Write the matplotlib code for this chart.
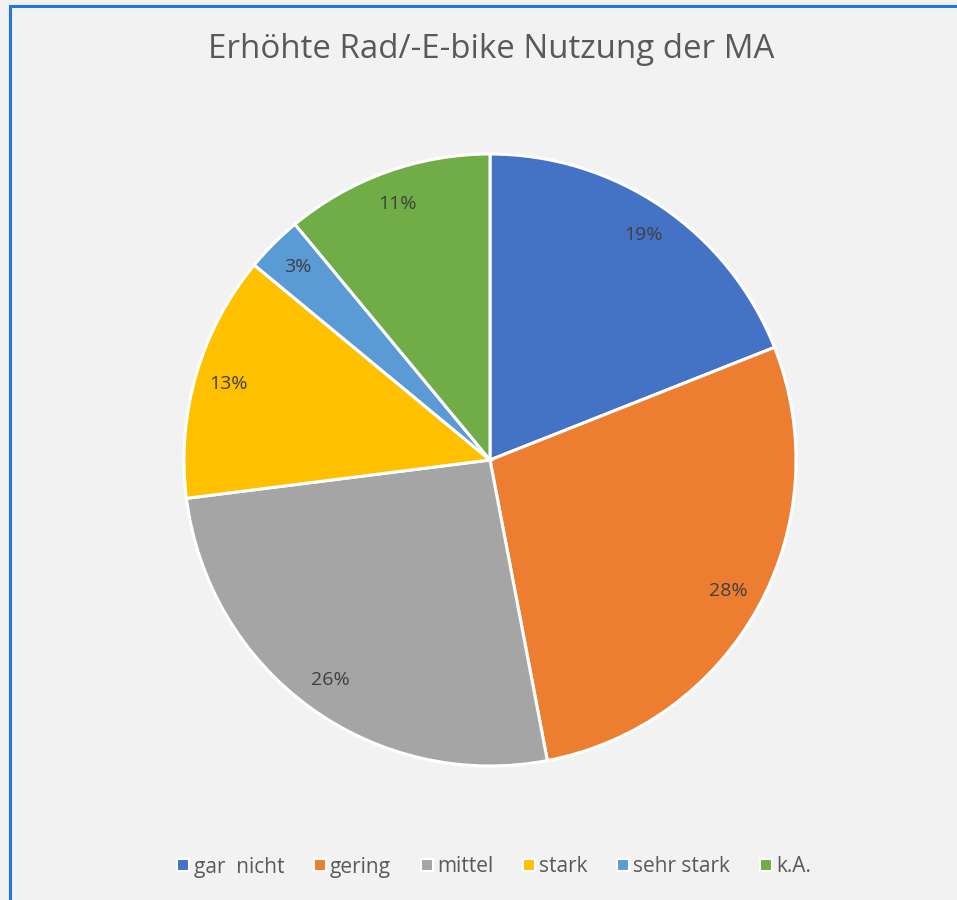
import matplotlib.pyplot as plt
from matplotlib.patches import Rectangle
from matplotlib.lines import Line2D

plt.rcParams['font.family'] = ['Open Sans', 'DejaVu Sans']

labels = ['gar  nicht', 'gering', 'mittel', 'stark', 'sehr stark', 'k.A.']
values = [19, 28, 26, 13, 3, 11]
colors = ['#4472C4', '#ED7D31', '#A5A5A5', '#FFC000', '#5B9BD5', '#70AD47']

W, H = 957, 900
fig = plt.figure(figsize=(W / 100, H / 100), dpi=100, facecolor='#F2F2F2')

# blue frame (right/bottom edges run off the image)
fig.patches.append(Rectangle((10 / W, -0.05), 1.0, 1 - 6 / H + 0.05,
                             transform=fig.transFigure, fill=False,
                             edgecolor='#1F77E0', linewidth=2.2, zorder=0))

cx, cy, r = 490, 460, 306
ax = fig.add_axes([(cx - r) / W, (H - cy - r) / H, 2 * r / W, 2 * r / H])
ax.set_facecolor('none')

wedges, texts, autotexts = ax.pie(
    values, colors=colors, startangle=90, counterclock=False,
    autopct='%d%%', pctdistance=0.89, radius=1,
    wedgeprops=dict(edgecolor='white', linewidth=2.2),
    textprops=dict(color='#404040', fontsize=14))
ax.set_xlim(-1, 1)
ax.set_ylim(-1, 1)
ax.set_aspect('equal')
ax.axis('off')

fig.text(491 / W, 1 - 50 / H, 'Erhöhte Rad/-E-bike Nutzung der MA',
         ha='center', va='center', fontsize=23.8, color='#595959')

handles = [Line2D([], [], marker='s', linestyle='none', markersize=8,
                  markerfacecolor=c, markeredgecolor='white', markeredgewidth=1.5)
           for c in colors]
fig.legend(handles, labels, loc='center', bbox_to_anchor=(493 / W, 1 - 867 / H),
           ncol=6, frameon=False, fontsize=15, labelcolor='#595959',
           handletextpad=0.1, columnspacing=1.3, handlelength=0.8)

fig.savefig('out.png', dpi=100, facecolor=fig.get_facecolor())
